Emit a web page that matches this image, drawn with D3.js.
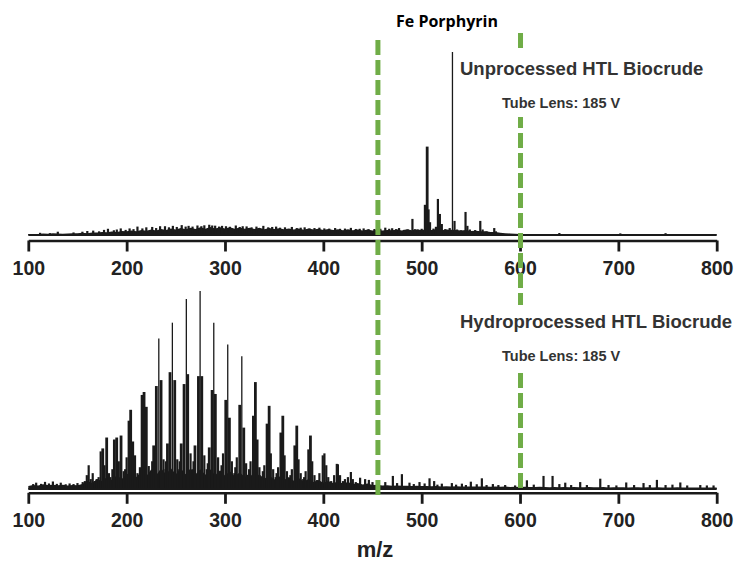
<!DOCTYPE html>
<html>
<head>
<meta charset="utf-8">
<script src="https://cdn.jsdelivr.net/npm/d3@7"></script>
<style>
  body { margin: 0; background: #fff; }
  svg { display: block; }
</style>
</head>
<body>
<svg id="chart" width="735" height="561"></svg>
<script>
// m/z axis ticks
const mzTicks = [100, 200, 300, 400, 500, 600, 700, 800];
// baseline "grass", one value every 5 m/z from 100 to 800 (relative abundance, %)
const noiseStart = 100, noiseStep = 5;
const topNoise = [
  0.5, 0.6, 0.6, 0.8, 0.7, 0.9, 0.8, 0.7, 0.8, 0.9, 1.0,
  1.2, 1.0, 1.4, 1.3, 1.6, 1.5, 1.9, 1.7, 2.2, 2.0,
  2.4, 2.0, 2.8, 2.3, 3.0, 2.5, 3.3, 2.7, 3.6, 3.0,
  3.8, 3.1, 4.0, 3.3, 4.2, 3.4, 4.4, 3.6, 4.3, 3.5,
  4.2, 3.4, 4.1, 3.4, 4.0, 3.3, 3.9, 3.2, 3.8, 3.3,
  3.7, 3.1, 3.6, 3.0, 3.6, 2.9, 3.5, 3.0, 3.4, 2.8,
  3.3, 2.7, 3.2, 2.6, 3.1, 2.6, 3.0, 2.5, 3.0, 2.5,
  2.9, 2.4, 2.8, 2.6, 3.0, 2.5, 3.2, 2.6, 3.0, 2.8,
  3.2, 2.7, 3.1, 2.6, 3.0, 2.9, 2.8, 2.4, 2.7, 2.2,
  2.3, 2.0, 2.0, 1.7, 1.6, 1.2, 1.0, 0.8, 0.7, 0.6,
  0.5, 0.5, 0.6, 0.5, 0.5, 0.4, 0.5, 0.5, 0.4, 0.5,
  0.4, 0.5, 0.4, 0.4, 0.5, 0.4, 0.4, 0.4, 0.5, 0.4,
  0.4, 0.4, 0.5, 0.4, 0.4, 0.4, 0.5, 0.4, 0.4, 0.4,
  0.4, 0.4, 0.4, 0.3, 0.4, 0.4, 0.3, 0.4, 0.3, 0.3
];
const bottomNoise = [
  1.5, 2.0, 1.8, 2.4, 2.0, 2.2, 1.9, 2.1, 1.8, 2.0, 1.9,
  2.5, 4.0, 3.0, 5.0, 4.0, 6.0, 4.5, 7.0, 5.0, 7.5,
  8.5, 6.0, 9.0, 6.5, 10.0, 7.0, 10.5, 7.5, 10.5, 7.5,
  10.5, 7.5, 10.5, 7.5, 10.0, 7.2, 10.0, 7.0, 9.5, 6.8,
  9.0, 6.5, 8.5, 6.0, 8.0, 5.5, 7.5, 5.2, 7.0, 4.8,
  6.5, 4.5, 6.0, 4.2, 5.5, 3.8, 5.0, 3.5, 4.5, 3.2,
  4.0, 3.0, 3.8, 2.8, 3.5, 2.5, 3.0, 2.3, 2.8, 2.0,
  2.2, 1.8, 1.9, 1.7, 1.8, 1.6, 1.7, 1.5, 1.6, 1.5,
  1.5, 1.4, 1.5, 1.3, 1.4, 1.3, 1.4, 1.2, 1.3, 1.2,
  1.3, 1.2, 1.2, 1.1, 1.2, 1.1, 1.2, 1.0, 1.1, 1.0,
  1.1, 1.0, 1.0, 1.1, 1.0, 0.9, 1.0, 0.9, 1.0, 0.9,
  1.0, 0.9, 0.9, 1.0, 0.9, 0.9, 1.0, 0.8, 0.9, 0.9,
  0.9, 0.8, 0.9, 0.9, 0.8, 0.9, 0.8, 0.9, 0.8, 0.8,
  0.8, 0.9, 0.8, 0.8, 0.8, 0.8, 0.7, 0.8, 0.8, 0.7
];
// [m/z, relative abundance %]
const topPeaks = [
  [112, 1.2], [122, 1.0], [130, 1.8], [146, 1.4], [155, 1.8], [160, 2.2], [166, 2.4],
  [172, 2.0], [177, 2.8], [181, 3.4], [187, 2.6], [190, 3.0], [194, 3.6], [199, 2.8],
  [203, 3.6], [207, 3.2], [211, 4.6], [216, 3.6], [220, 4.2], [226, 4.4], [230, 3.8],
  [234, 4.8], [239, 4.8], [243, 4.2], [247, 5.0], [251, 4.4], [256, 5.4], [260, 4.6],
  [263, 5.0], [267, 4.6], [272, 5.2], [276, 4.8], [279, 5.3], [284, 5.6], [287, 5.2],
  [290, 5.1], [294, 4.6], [297, 5.0], [301, 4.8], [305, 4.5], [311, 5.2], [315, 4.4],
  [318, 4.8], [322, 4.7], [327, 4.2], [332, 4.6], [339, 5.0], [344, 4.2], [348, 4.4],
  [352, 4.6], [356, 4.0], [361, 4.2], [368, 4.4], [373, 3.8], [377, 4.0], [381, 4.2],
  [386, 3.6], [391, 3.8], [396, 4.0], [401, 3.6], [406, 3.5], [412, 3.8], [417, 3.4],
  [422, 3.5], [428, 3.9], [433, 3.3], [437, 3.4], [441, 3.6], [446, 3.2], [452, 3.3],
  [458, 3.4], [463, 4.0], [467, 3.4], [470, 3.7], [474, 3.2], [477, 3.8], [482, 2.8],
  [486, 3.0], [490.6, 8.8], [493, 3.2], [496, 3.0], [500, 3.4], [503.3, 16.5],
  [505.6, 48.3], [507, 14], [508.5, 7], [512, 3.5], [514.5, 4.5], [516.5, 19.7],
  [518.5, 11.5], [520.5, 6], [524, 3.2], [528.5, 3.8], [531.3, 100], [533.4, 7.7],
  [536, 3], [540, 2.6], [544.6, 12.6], [546.5, 5], [549, 3], [554.4, 2.7], [559.6, 7.7],
  [562, 3], [566, 2], [573.8, 3.8], [575.5, 2], [640, 1.1], [702, 0.9], [748, 1.0]
];
const bottomPeaks = [
  [105, 2.5], [108, 3.2], [113, 2.6], [117, 3.6], [121, 2.8], [125, 3.8], [129, 2.6],
  [133, 3.2], [138, 2.4], [142, 2.8], [146, 2.5], [150, 3.0],
  [155.3, 3.5], [157.5, 4], [159.5, 7], [161.4, 12], [163.5, 5], [165.5, 8], [167.5, 4],
  [169.5, 5], [171.5, 6], [173.6, 19], [175.7, 20.5], [177.5, 12], [179.7, 26], [182, 8],
  [183.5, 6], [185.5, 10], [187.5, 25], [189.9, 26], [192, 14], [194.3, 27], [197, 9],
  [198.5, 10], [200, 16], [202.4, 34.5], [204.1, 40], [206.2, 24], [208.5, 17], [211, 8],
  [213.5, 11], [215.7, 47.5], [217.7, 49], [220, 41.5], [222.5, 11.6], [225, 9],
  [226, 14], [227.5, 22], [230.2, 52], [232.7, 76], [235, 55], [237.5, 15], [239.5, 10],
  [240, 14], [241.5, 23], [244.1, 59], [246.5, 84], [248.9, 55], [251.5, 15], [253.5, 10],
  [254, 14], [255.5, 23], [258.4, 53], [260.7, 96], [262.1, 58], [265, 18], [267.5, 10],
  [268, 14], [269.5, 22], [273, 57], [274.7, 100], [276.4, 57], [279, 17], [281.5, 10],
  [282.5, 13], [284, 21], [286.9, 50], [288.6, 84], [290.2, 48], [293, 16], [295.5, 9],
  [296.5, 12], [298, 18], [300.8, 45], [302.8, 73], [304.5, 36], [307, 14], [309.5, 8],
  [310.5, 11], [312, 16], [315, 42.5], [317.1, 67], [319.1, 31], [321.5, 13], [323.5, 7],
  [324.5, 10], [326, 14], [328.9, 37], [330.9, 54], [332.7, 25], [335, 11], [337.5, 6],
  [338.5, 9], [340, 12], [342.8, 33], [344.9, 42], [346.6, 18], [349, 10], [351.5, 6],
  [352.5, 8], [354, 11], [356.8, 28.5], [358.8, 37], [360.6, 17], [363, 9], [365.5, 5],
  [366.5, 7], [368, 10], [371, 22], [373, 32], [374.8, 15], [377, 8], [379.5, 5],
  [380.5, 6], [382, 9], [384.8, 20], [386.9, 27], [388.7, 14], [391, 7], [393.5, 4.5],
  [396, 8], [399.4, 17], [401.1, 18], [403, 12], [405, 6], [408, 4],
  [411, 7], [413.7, 12.7], [414.8, 12.5], [417, 7], [420, 4], [422, 5],
  [425, 6], [428, 8.6], [430, 5], [433, 3.5],
  [437.4, 5.7], [442.5, 5], [446.3, 4.6], [450, 3.5],
  [463, 3.5], [470.7, 6.6], [475, 3], [479.9, 7.5], [487.6, 3.2], [492, 2.5],
  [497.8, 3.5], [503, 2.8], [508, 5.4], [512.7, 4], [516, 2.2], [520.5, 2.7],
  [530.7, 3], [535, 2.2], [540.9, 2.7], [545, 2], [550, 3.7], [556, 2.4],
  [561.2, 5.4], [566, 2], [572.4, 2.5], [578, 2], [584.9, 2], [595, 1.8],
  [607, 4.4], [614, 2.2], [623.9, 6.6], [633.1, 6.6], [640, 2.5], [646, 3.2],
  [652, 2], [661.2, 3.5], [668, 2], [681.6, 5.2], [690, 2], [698, 1.8],
  [708, 3.3], [716, 2], [725.6, 3], [732, 2], [739.2, 4.6], [748, 2],
  [755, 2.2], [763, 3.3], [770, 1.8], [783.3, 2], [790, 1.8], [796.8, 1.8]
];
// dashed marker lines (m/z) bracketing the Fe porphyrin window
const markerMz = [455, 600];

const svg = d3.select("#chart");
const x = d3.scaleLinear().domain([100, 800]).range([28.3, 716.7]);
const ink = "#1a1a1a";
const green = "#70ad47";
const font = "'Liberation Sans', Arial, Helvetica, sans-serif";

const panels = [
  { noise: topNoise, peaks: topPeaks, base: 235, top: 52, axisY: 240.5,
    title: "Unprocessed HTL Biocrude", titleY: 75 },
  { noise: bottomNoise, peaks: bottomPeaks, base: 489, top: 291, axisY: 492.8,
    title: "Hydroprocessed HTL Biocrude", titleY: 328 }
];

panels.forEach((p) => {
  const y = d3.scaleLinear().domain([0, 100]).range([p.base, p.top]);
  const g = svg.append("g");

  const area = d3.area()
    .x((d, i) => x(noiseStart + i * noiseStep))
    .y0(y(0))
    .y1((d) => y(d));
  g.append("path")
    .datum(p.noise)
    .attr("d", area)
    .attr("fill", ink);

  // thin tall peaks, thicker shoulders (they merge into dark bands)
  g.selectAll(".peak")
    .data(p.peaks)
    .join("line")
    .attr("class", "peak")
    .attr("x1", (d) => x(d[0]))
    .attr("x2", (d) => x(d[0]))
    .attr("y1", y(0))
    .attr("y2", (d) => y(d[1]))
    .attr("stroke", ink)
    .attr("stroke-width", (d) => d[1] > 60 ? 1.3 : d[1] > 20 ? 2.8 : 2.2);

  // spectrum baseline
  g.append("line")
    .attr("x1", x(100)).attr("x2", x(800))
    .attr("y1", y(0)).attr("y2", y(0))
    .attr("stroke", ink).attr("stroke-width", 2);

  const ax = g.append("g")
    .attr("transform", `translate(0,${p.axisY})`)
    .call(d3.axisBottom(x).tickValues(mzTicks).tickSize(11).tickSizeOuter(0).tickPadding(9.5));
  ax.select(".domain").attr("stroke", ink).attr("stroke-width", 2.6);
  ax.selectAll(".tick line").attr("stroke", ink).attr("stroke-width", 2.8);
  ax.selectAll(".tick text")
    .attr("fill", "#222")
    .style("font-family", font)
    .style("font-weight", "bold")
    .style("font-size", "19.5px");
});

// green dashed markers
const markerSpans = [[40, 496], [33, 490]];
svg.selectAll(".marker")
  .data(markerMz)
  .join("line")
  .attr("class", "marker")
  .attr("x1", (d) => x(d) + 0.5)
  .attr("x2", (d) => x(d) + 0.5)
  .attr("y1", (d, i) => markerSpans[i][0])
  .attr("y2", (d, i) => markerSpans[i][1])
  .attr("stroke", green)
  .attr("stroke-width", 5)
  .attr("stroke-dasharray", "15,5");

// panel labels with a white backing that hides the dashed line behind them
panels.forEach((p) => {
  const lg = svg.append("g");
  const bg = lg.append("rect").attr("fill", "#fff");
  lg.append("text")
    .attr("x", 460)
    .attr("y", p.titleY)
    .attr("fill", "#333")
    .style("font-family", font)
    .style("font-weight", "bold")
    .style("font-size", "18.5px")
    .text(p.title);
  lg.append("text")
    .attr("x", 502)
    .attr("y", p.titleY + 33)
    .attr("fill", "#333")
    .style("font-family", font)
    .style("font-weight", "bold")
    .style("font-size", "14.5px")
    .text("Tube Lens: 185 V");
  const b = lg.node().getBBox();
  bg.attr("x", b.x).attr("y", b.y - 6).attr("width", b.width).attr("height", b.height + 12);
});

svg.append("text")
  .attr("x", 447)
  .attr("y", 27)
  .attr("text-anchor", "middle")
  .attr("fill", "#000")
  .style("font-family", "'Open Sans', 'Noto Sans', sans-serif")
  .style("font-weight", "bold")
  .style("font-size", "16px")
  .text("Fe Porphyrin");

svg.append("text")
  .attr("x", 375)
  .attr("y", 557)
  .attr("text-anchor", "middle")
  .attr("fill", "#222")
  .style("font-family", font)
  .style("font-weight", "bold")
  .style("font-size", "22px")
  .text("m/z");
</script>
</body>
</html>
